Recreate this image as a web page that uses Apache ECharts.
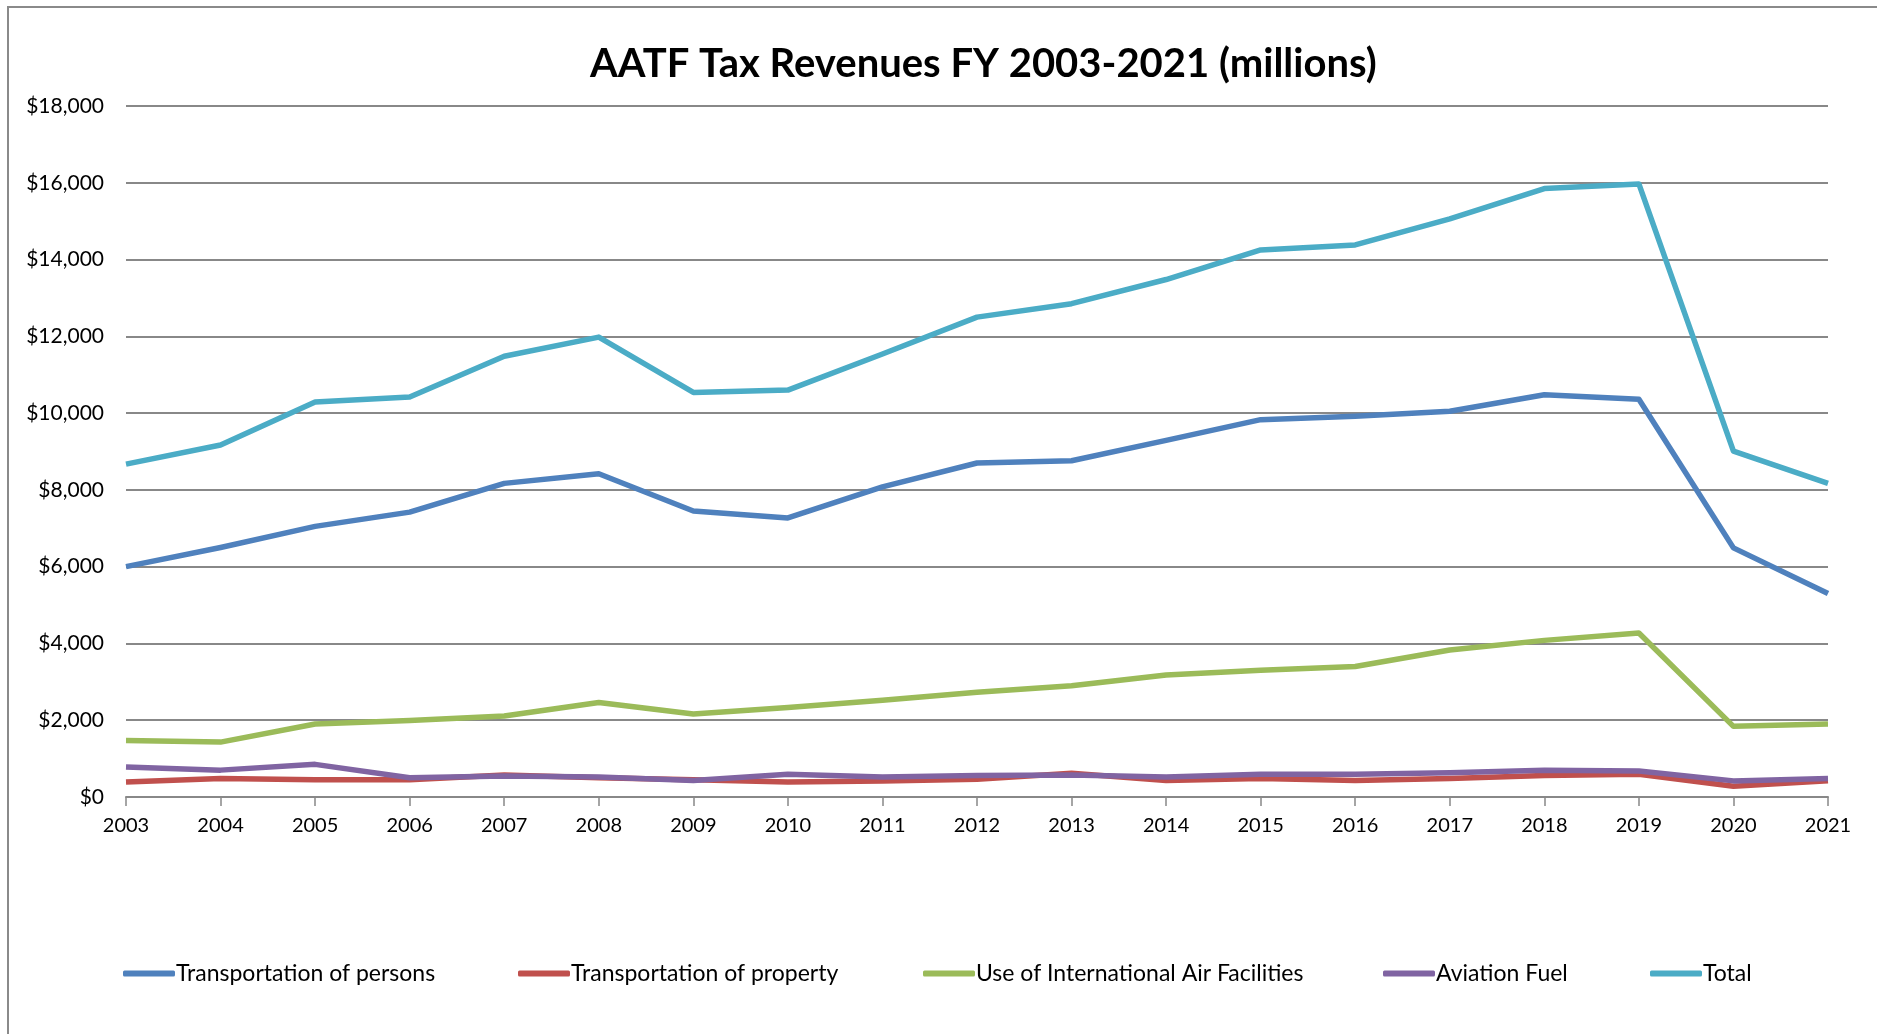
<!DOCTYPE html>
<html>
<head>
<meta charset="utf-8">
<script src="https://cdn.jsdelivr.net/npm/echarts@6/dist/echarts.min.js"></script>
<style>
html,body{margin:0;padding:0;background:#fff;}
#frame{position:absolute;left:7px;top:6px;width:1900px;height:1060px;border-left:2px solid #8a8a8a;border-top:2px solid #8a8a8a;}
#chart{position:absolute;left:0;top:0;width:1877px;height:1034px;}
</style>
</head>
<body>
<div id="frame"></div>
<div id="chart"></div>
<script>
const years = ['2003','2004','2005','2006','2007','2008','2009','2010','2011','2012','2013','2014','2015','2016','2017','2018','2019','2020','2021'];
const persons = [6000,6500,7050,7420,8170,8420,7450,7270,8080,8700,8760,9290,9830,9920,10050,10480,10360,6490,5300];
const property = [390,480,450,450,570,500,450,390,420,460,620,430,480,430,480,560,590,280,420];
const intlFacilities = [1470,1430,1900,1990,2110,2460,2160,2330,2520,2730,2900,3180,3300,3400,3830,4080,4270,1840,1900];
const aviationFuel = [780,700,850,500,550,520,430,590,520,560,570,520,590,590,630,700,680,420,480];
const total = [8670,9170,10290,10420,11480,11980,10540,10600,11540,12500,12850,13480,14250,14380,15060,15850,15970,9010,8170];
const seriesNames = ['Transportation of persons','Transportation of property','Use of International Air Facilities','Aviation Fuel','Total'];
const colors = ['#4F81BD','#C0504D','#9BBB59','#8064A2','#4BACC6'];
const yTicks = [0,2000,4000,6000,8000,10000,12000,14000,16000,18000];

const FONT = 'Lato, "Open Sans", sans-serif';
const dataArr = [persons, property, intlFacilities, aviationFuel, total];
const legendLefts = [123, 518, 923, 1383, 1650];

const chart = echarts.init(document.getElementById('chart'), null, {renderer:'canvas'});
const option = {
  backgroundColor: 'transparent',
  animation: false,
  title: {
    text: 'AATF Tax Revenues FY 2003-2021 (millions)',
    left: 590,
    top: 44,
    padding: 0,
    textStyle: {fontFamily: FONT, fontSize: 40, fontWeight: 'bold', color: '#000'}
  },
  legend: seriesNames.map((n, i) => ({
    data: [n],
    left: legendLefts[i],
    top: 962,
    padding: 0,
    icon: 'roundRect',
    itemWidth: 52,
    itemHeight: 6,
    itemGap: 0,
    textStyle: {fontFamily: FONT, fontSize: 23, color: '#000', padding: [0,0,0,-4]}
  })),
  grid: {left: 126, right: 49, top: 106, bottom: 237, containLabel: false},
  xAxis: {
    type: 'category',
    data: years,
    boundaryGap: false,
    axisLine: {show: true, lineStyle: {color: '#888', width: 2}},
    axisTick: {show: true, alignWithLabel: true, length: 9, lineStyle: {color: '#888', width: 1.5}},
    axisLabel: {fontFamily: FONT, fontSize: 20, color: '#000', margin: 19}
  },
  yAxis: {
    type: 'value',
    min: yTicks[0],
    max: yTicks[yTicks.length-1],
    interval: 2000,
    axisLine: {show: false},
    axisTick: {show: false},
    splitLine: {lineStyle: {color: '#888', width: 2}},
    axisLabel: {
      fontFamily: FONT, fontSize: 21, color: '#000', margin: 22,
      formatter: v => '$' + v.toLocaleString('en-US')
    }
  },
  series: seriesNames.map((n, i) => ({
    name: n,
    type: 'line',
    data: dataArr[i],
    showSymbol: false,
    symbol: 'none',
    lineStyle: {width: 5.5, color: colors[i], join: 'round'},
    itemStyle: {color: colors[i]},
    z: 2 + i
  }))
};
chart.setOption(option);
</script>
</body>
</html>
